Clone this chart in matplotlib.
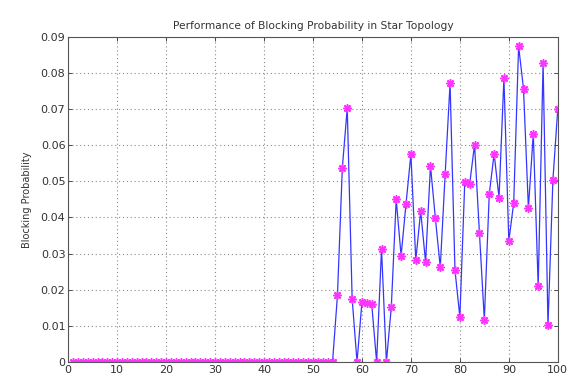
import numpy as np
import matplotlib
matplotlib.use("Agg")
import matplotlib.pyplot as plt

# blocking probability per load step 1..100 (zero up to 54)
load = np.arange(1, 101)
tail = [0.0184, 0.0538, 0.0703, 0.0175, 0.0, 0.0166, 0.0163, 0.016, 0.0, 0.0313,
        0.0, 0.0152, 0.045, 0.0294, 0.0437, 0.0575, 0.0282, 0.0418, 0.0276, 0.0543,
        0.0398, 0.0262, 0.052, 0.0772, 0.0255, 0.0124, 0.0497, 0.0492, 0.0602, 0.0357,
        0.0117, 0.0464, 0.0577, 0.0455, 0.0786, 0.0334, 0.0441, 0.0874, 0.0757, 0.0426,
        0.0632, 0.0209, 0.0828, 0.0101, 0.0503, 0.0701]
blocking = np.array([0.0] * (100 - len(tail)) + tail)

xticks = list(range(0, 101, 10))
yticks = [i / 100 for i in range(10)]
ylabels = ['0'] + ['%.2f' % v for v in yticks[1:]]

fig = plt.figure(figsize=(5.68, 3.77), dpi=100)
ax = fig.add_axes([0.12, 0.040, 0.862, 0.862])

ax.plot(load, blocking, color='#3535ff', linewidth=0.9)
ax.plot(load, blocking, linestyle='none', marker=(8, 2, 0), markersize=6,
        markeredgecolor='#ff33ff', markeredgewidth=1.1)

ax.set_xlim(0, 100)
ax.set_ylim(0, 0.09)
ax.set_xticks(xticks)
ax.set_yticks(yticks)
ax.set_yticklabels(ylabels)
ax.tick_params(direction='in', top=True, right=True, labelsize=8,
               length=3, width=0.6, colors='#333333', pad=2)
ax.grid(True, linestyle=(0, (1, 2.5)), color='#8a8a8a', linewidth=0.8)
for s in ax.spines.values():
    s.set_color('#555555')
    s.set_linewidth(0.8)

ax.set_ylabel('Blocking Probability', fontsize=7, color='#333333', labelpad=6)
ax.set_title('Performance of Blocking Probability in Star Topology',
             fontsize=7.7, color='#333333', pad=6)

fig.savefig('out.png', dpi=100)
